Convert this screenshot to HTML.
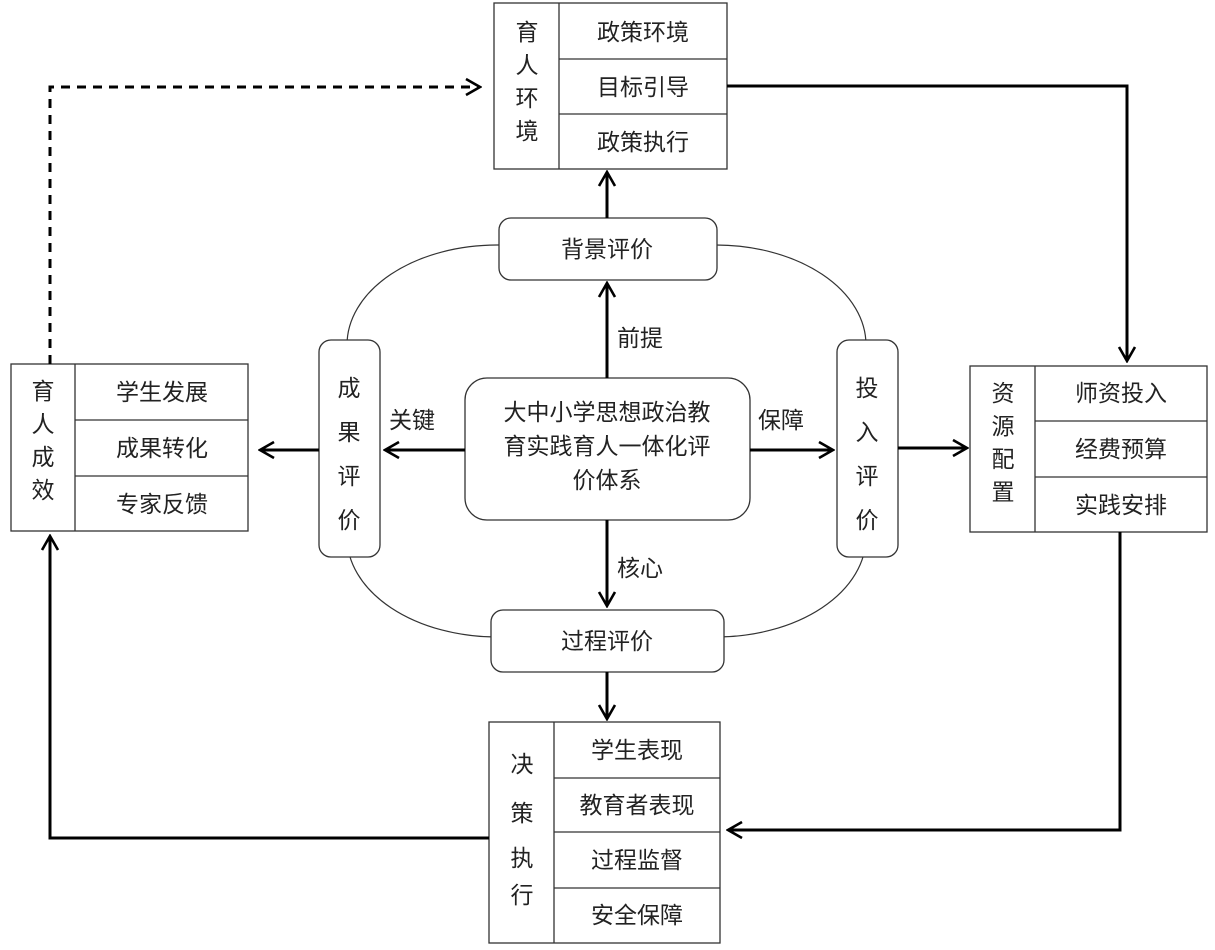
<!DOCTYPE html>
<html><head><meta charset="utf-8"><style>
html,body{margin:0;padding:0;background:#fff;}
body{width:1215px;height:945px;overflow:hidden;}
svg text{font-family:"Liberation Sans","Noto Sans CJK SC",sans-serif;fill:#222;font-size:23px;}
</style></head><body>
<svg width="1215" height="945" viewBox="0 0 1215 945" xmlns="http://www.w3.org/2000/svg">
<defs>
<marker id="a" viewBox="0 0 20 20" refX="18" refY="10" markerWidth="20" markerHeight="20" markerUnits="userSpaceOnUse" orient="auto"><path d="M4,2 L18,10 L4,18" fill="none" stroke="#000" stroke-width="2.6"/></marker>
</defs>
<g fill="none" stroke="#333" stroke-width="1.2">
<rect x="347" y="245" width="519" height="392" rx="150" ry="100"/>
</g>
<g fill="#fff" stroke="#333" stroke-width="1.3">
<rect x="499" y="218" width="218" height="62" rx="12"/>
<rect x="491" y="610" width="233" height="62" rx="12"/>
<rect x="319" y="340" width="61" height="217" rx="12"/>
<rect x="837" y="340" width="61" height="217" rx="12"/>
<rect x="465" y="378" width="285" height="142" rx="22"/>
<rect x="494" y="3" width="233" height="166"/>
<line x1="559" y1="3" x2="559" y2="169"/><line x1="559" y1="59" x2="727" y2="59"/><line x1="559" y1="114" x2="727" y2="114"/>
<rect x="489" y="722" width="231" height="221"/>
<line x1="554" y1="722" x2="554" y2="943"/><line x1="554" y1="778" x2="720" y2="778"/><line x1="554" y1="832" x2="720" y2="832"/><line x1="554" y1="888" x2="720" y2="888"/>
<rect x="11" y="364" width="237" height="167"/>
<line x1="75" y1="364" x2="75" y2="531"/><line x1="75" y1="420" x2="248" y2="420"/><line x1="75" y1="476" x2="248" y2="476"/>
<rect x="970" y="366" width="237" height="166"/>
<line x1="1035" y1="366" x2="1035" y2="532"/><line x1="1035" y1="421" x2="1207" y2="421"/><line x1="1035" y1="477" x2="1207" y2="477"/>
</g>
<g stroke="#000" stroke-width="3" fill="none" marker-end="url(#a)">
<line x1="607" y1="378" x2="607" y2="283"/>
<line x1="607" y1="218" x2="607" y2="172"/>
<line x1="607" y1="520" x2="607" y2="606"/>
<line x1="607" y1="672" x2="607" y2="719"/>
<line x1="465" y1="450" x2="385" y2="450"/>
<line x1="319" y1="450" x2="260" y2="450"/>
<line x1="750" y1="450" x2="833" y2="450"/>
<line x1="898" y1="448" x2="967" y2="448"/>
<polyline points="727,86 1127,86 1127,361"/>
<polyline points="1120,532 1120,830 728,830"/>
<polyline points="489,838 50,838 50,536"/>
<polyline points="50,364 50,87 480,87" stroke-dasharray="9,7"/>
</g>
<g text-anchor="middle">
<text x="607" y="257">背景评价</text>
<text x="607" y="649">过程评价</text>
<text x="349" y="396">成</text><text x="349" y="440">果</text><text x="349" y="484">评</text><text x="349" y="528">价</text>
<text x="867" y="396">投</text><text x="867" y="440">入</text><text x="867" y="484">评</text><text x="867" y="528">价</text>
<text x="607" y="420">大中小学思想政治教</text>
<text x="607" y="454">育实践育人一体化评</text>
<text x="607" y="488">价体系</text>
<text x="640" y="346">前提</text>
<text x="640" y="576">核心</text>
<text x="412" y="428">关键</text>
<text x="781" y="428">保障</text>
<text x="527" y="40">育</text><text x="527" y="73">人</text><text x="527" y="106">环</text><text x="527" y="139">境</text>
<text x="643" y="40">政策环境</text><text x="643" y="95">目标引导</text><text x="643" y="150">政策执行</text>
<text x="43" y="399">育</text><text x="43" y="432">人</text><text x="43" y="465">成</text><text x="43" y="498">效</text>
<text x="162" y="400">学生发展</text><text x="162" y="456">成果转化</text><text x="162" y="512">专家反馈</text>
<text x="1003" y="401">资</text><text x="1003" y="434">源</text><text x="1003" y="467">配</text><text x="1003" y="500">置</text>
<text x="1121" y="401">师资投入</text><text x="1121" y="457">经费预算</text><text x="1121" y="513">实践安排</text>
<text x="522" y="772">决</text><text x="522" y="821">策</text><text x="522" y="866">执</text><text x="522" y="903">行</text>
<text x="637" y="758">学生表现</text><text x="637" y="813">教育者表现</text><text x="637" y="868">过程监督</text><text x="637" y="923">安全保障</text>
</g>
</svg>
</body></html>
